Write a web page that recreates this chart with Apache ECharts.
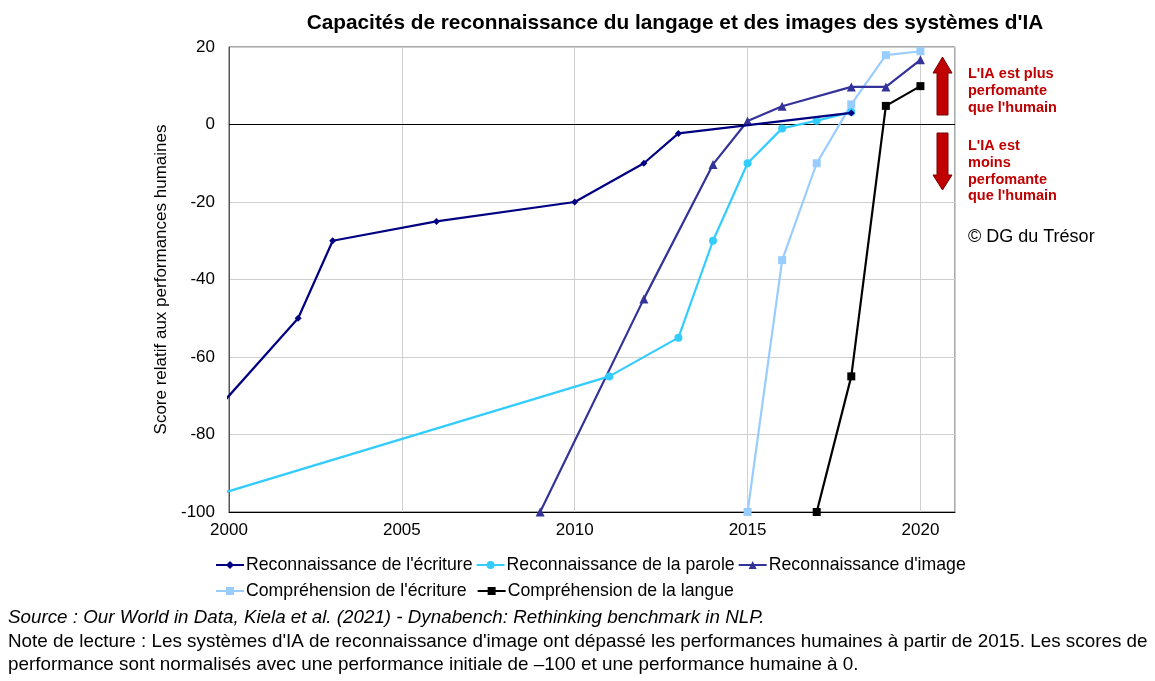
<!DOCTYPE html>
<html><head><meta charset="utf-8">
<script src="https://cdn.jsdelivr.net/npm/echarts@6/dist/echarts.min.js"></script>
<style>html,body{margin:0;padding:0;background:#fff}#c{width:1155px;height:681px}</style>
</head><body><div id="c"></div>
<script>
const seriesNames = ["Reconnaissance de l'écriture","Reconnaissance de la parole","Reconnaissance d'image","Compréhension de l'écriture","Compréhension de la langue"];
const handwriting = [[1998,-90],[2002,-50],[2003,-30],[2006,-25],[2010,-20],[2012,-10],[2013,-2.3],[2018,3]];
const speech = [[1998,-100],[2011,-65],[2013,-55],[2014,-30],[2015,-10],[2016,-1],[2017,1],[2018,3.2]];
const image = [[2009,-100],[2012,-45],[2014,-10.3],[2015,0.9],[2016,4.7],[2018,9.7],[2019,9.7],[2020,16.7]];
const reading = [[2015,-100],[2016,-35],[2017,-10],[2018,5.2],[2019,17.9],[2020,18.9]];
const language = [[2017,-100],[2018,-65],[2019,4.8],[2020,9.9]];
const yTicks = [-100,-80,-60,-40,-20,0,20];
const xTicks = [2000,2005,2010,2015,2020];

const colors = ['#000080','#33CCFF','#333399','#99CCFF','#000000'];
const symbols = ['diamond','circle','triangle','rect','rect'];
const sizes = [7,8,9,8,8];
const datas = [handwriting, speech, image, reading, language];
const F = "'Liberation Sans', Arial, sans-serif";

const chart = echarts.init(document.getElementById('c'));
chart.setOption({
  animation:false,
  textStyle:{fontFamily:F},
  title:{text:"Capacités de reconnaissance du langage et des images des systèmes d'IA",left:670,top:8,textAlign:'center',
    textStyle:{fontSize:20.8,fontWeight:'bold',color:'#000',fontFamily:F}},
  grid:{left:229,right:200,top:47,bottom:169,show:true,borderColor:'#555',borderWidth:1},
  xAxis:{type:'value',min:2000,max:2021,interval:5,
    axisLine:{show:true,onZero:false,lineStyle:{color:'#000'}},axisTick:{show:false},
    splitLine:{show:true,lineStyle:{color:'#cfcfcf'}},
    axisLabel:{color:'#000',fontSize:17,margin:10,showMaxLabel:false,formatter:v=>xTicks.includes(v)?String(v):''}},
  yAxis:{type:'value',min:-100,max:20,interval:20,name:'Score relatif aux performances humaines',nameLocation:'middle',nameGap:54,
    nameTextStyle:{color:'#000',fontSize:17},
    axisLine:{show:true,lineStyle:{color:'#555'}},axisTick:{show:false},
    splitLine:{show:true,lineStyle:{color:'#cfcfcf'}},
    axisLabel:{color:'#000',fontSize:17,margin:14,formatter:v=>yTicks.includes(v)?String(v):''}},
  legend:[
    {data:seriesNames.slice(0,3),left:210,top:551,itemGap:3,itemWidth:28,itemHeight:10,
      textStyle:{fontSize:17.7,color:'#000',padding:[0,0,0,-3]}},
    {data:seriesNames.slice(3),left:210,top:577,itemGap:10,itemWidth:28,itemHeight:10,
      textStyle:{fontSize:17.7,color:'#000',padding:[0,0,0,-3]}}
  ],
  series: datas.map((d,i)=>({
    name:seriesNames[i],type:'line',data:d,color:colors[i],
    symbol:symbols[i],symbolSize:sizes[i],showAllSymbol:true,clip:true,
    lineStyle:{width:2.2,color:colors[i]},itemStyle:{color:colors[i]},
    markLine: i===0 ? {silent:true,symbol:'none',label:{show:false},lineStyle:{color:'#000',width:1.2,type:'solid'},data:[{yAxis:0}]} : undefined,
    z: 10-i
  })),
  graphic:[
    {type:'polygon',shape:{points:[[942.5,57],[952,73],[948,73],[948,115],[937,115],[937,73],[933,73]]},
      style:{fill:'#C00000',stroke:'#7a0000',lineWidth:1}},
    {type:'polygon',shape:{points:[[937,133],[948,133],[948,175],[952,175],[942.5,190],[933,175],[937,175]]},
      style:{fill:'#C00000',stroke:'#7a0000',lineWidth:1}},
    {type:'text',left:968,top:66,style:{text:"L'IA est plus\nperfomante\nque l'humain",fill:'#C00000',font:"bold 14.5px "+F,lineHeight:16.7}},
    {type:'text',left:968,top:138,style:{text:"L'IA est\nmoins\nperfomante\nque l'humain",fill:'#C00000',font:"bold 14.5px "+F,lineHeight:16.7}},
    {type:'text',left:968,top:228,style:{text:"© DG du Trésor",fill:'#000',font:"18px "+F}},
    {type:'text',left:8,top:608,style:{text:"Source : Our World in Data, Kiela et al. (2021) - Dynabench: Rethinking benchmark in NLP.",fill:'#000',font:"italic 18.8px "+F}},
    {type:'text',left:8,top:631,style:{text:"Note de lecture : Les systèmes d'IA de reconnaissance d'image ont dépassé les performances humaines à partir de 2015. Les scores de\nperformance sont normalisés avec une performance initiale de –100 et une performance humaine à 0.",fill:'#000',font:"18.85px "+F,lineHeight:22.5}}
  ]
});
</script></body></html>
